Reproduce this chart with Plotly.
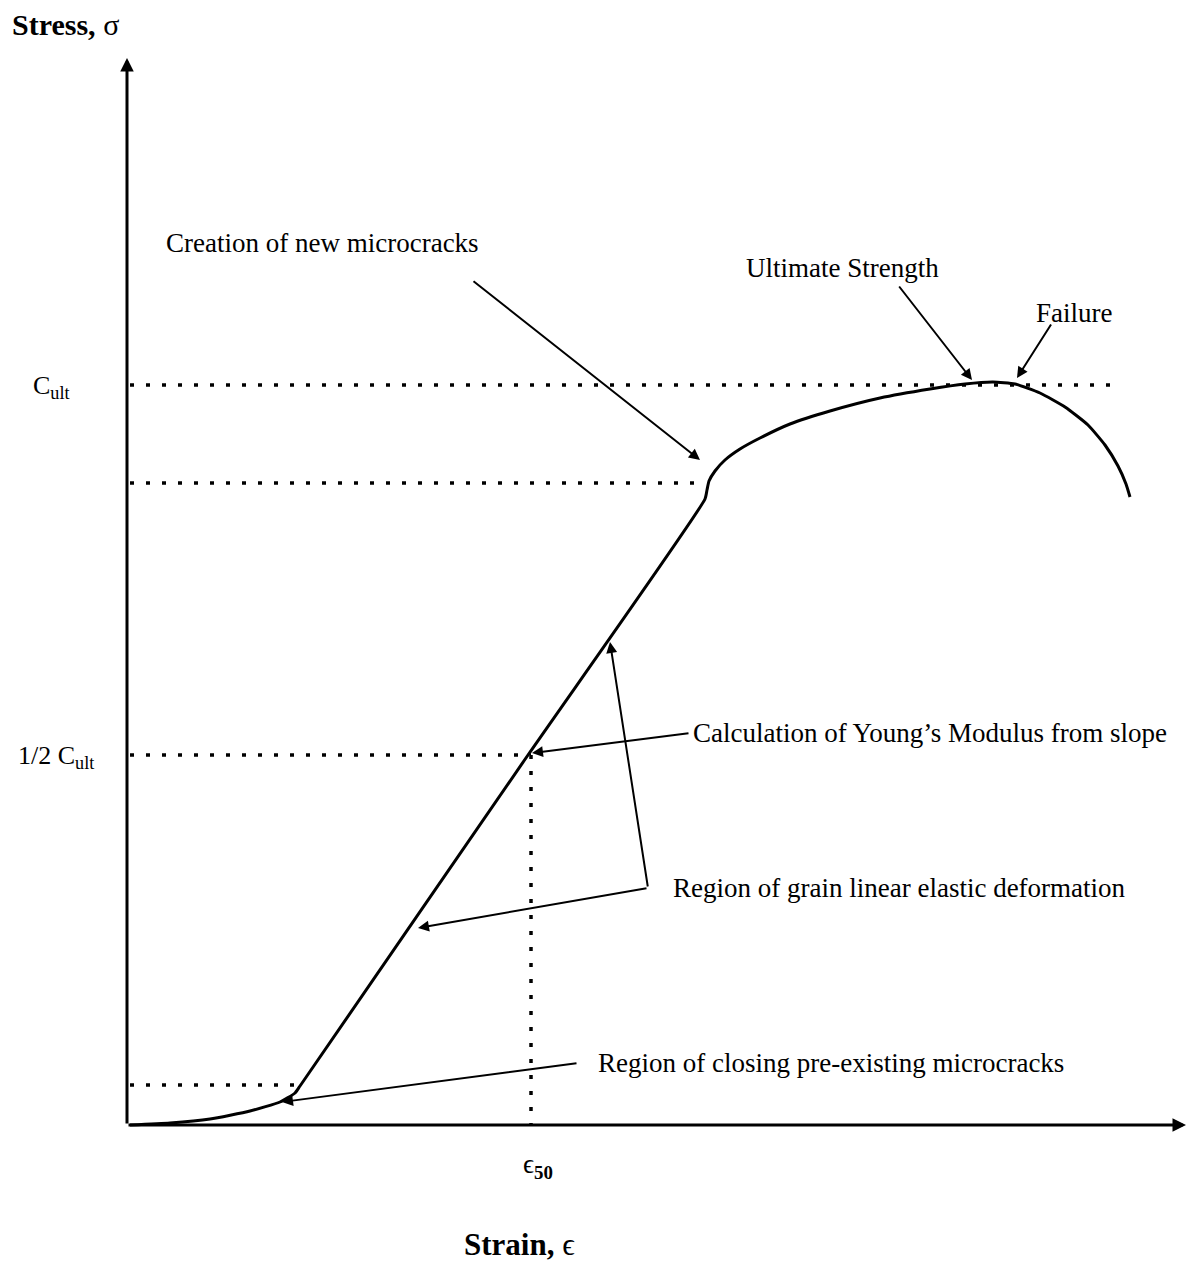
import plotly.graph_objects as go

# ---- data (schematic units: strain along x, stress along y) ----
curve_strain = [2, 42, 82, 122, 152, 167, 172, 400, 577, 579, 581, 587, 597, 612, 632, 662, 702, 752,
                802, 837, 865, 887, 912, 937, 960, 977, 990, 998, 1002]
curve_stress = [0, 2, 6, 14, 23, 32, 39, 370, 626, 635, 644, 654, 665, 676, 687, 701, 714, 727,
                736, 741, 743, 741, 732, 718, 700, 680, 659, 641, 628]

C_ult = 740          # ultimate strength level
C_crack = 642        # onset of new microcracks
C_half = C_ult / 2   # 1/2 C_ult
C_close = 40         # end of crack closure
eps_50 = 403         # strain at 1/2 C_ult
eps_close = 172
eps_crack = 577
eps_end_ult = 982

x_range = [-128, 1060]
y_range = [-136, 1125]

FONT = "Liberation Serif"

fig = go.Figure()

# main curve
fig.add_trace(go.Scatter(x=curve_strain, y=curve_stress, mode="lines",
                         line=dict(color="black", width=3, shape="spline", smoothing=0.5),
                         hoverinfo="skip"))

dot = dict(color="black", width=3.5, dash="4px,12px")
# dotted reference lines
fig.add_trace(go.Scatter(x=[2, eps_end_ult], y=[C_ult, C_ult], mode="lines", line=dot, hoverinfo="skip"))
fig.add_trace(go.Scatter(x=[2, eps_crack], y=[C_crack, C_crack], mode="lines", line=dot, hoverinfo="skip"))
fig.add_trace(go.Scatter(x=[2, eps_50], y=[C_half, C_half], mode="lines", line=dot, hoverinfo="skip"))
fig.add_trace(go.Scatter(x=[2, eps_close], y=[C_close, C_close], mode="lines", line=dot, hoverinfo="skip"))
fig.add_trace(go.Scatter(x=[eps_50, eps_50], y=[C_half, 0], mode="lines", line=dot, hoverinfo="skip"))

annotations = []

def arrow(tail, tip, width=2, head=2, size=1.1):
    annotations.append(dict(x=tip[0], y=tip[1], ax=tail[0], ay=tail[1],
                            xref="x", yref="y", axref="x", ayref="y",
                            text="", showarrow=True, arrowhead=head,
                            arrowsize=size, arrowwidth=width, arrowcolor="black",
                            standoff=0, startstandoff=0))

# axes
arrow((-1, 0), (-1, 1067), width=3, head=2, size=0.9)
arrow((-1, 0), (1058, 0), width=3, head=2, size=0.9)

# pointer arrows
arrow((344, 845), (572, 665))     # creation of new microcracks
arrow((770, 840), (844, 745))     # ultimate strength
arrow((924, 802), (889, 747))     # failure
arrow((562, 392), (404, 372))     # Young's modulus
arrow((520, 237), (482, 483))     # grain linear elastic (upper)
arrow((520, 237), (290, 197))     # grain linear elastic (lower)
arrow((450, 62), (154, 23))       # closing cracks

def label(x, y, text, size=27, bold=False):
    annotations.append(dict(x=x, y=y, xref="x", yref="y", text=("<b>%s</b>" % text) if bold else text,
                            showarrow=False, xanchor="left", yanchor="middle",
                            font=dict(family=FONT, size=size, color="black")))

label(36, 882, "Creation of new microcracks")
label(616, 857, "Ultimate Strength")
label(906, 812, "Failure")
label(563, 392, "Calculation of Young’s Modulus from slope")
label(543, 237, "Region of grain linear elastic deformation")
label(468, 62, "Region of closing pre-existing microcracks")
label(-97, 738, "C<sub>ult</sub>", size=26)
label(-112, 368, "1/2 C<sub>ult</sub>", size=26)
label(393, -41, "ϵ<sub><b>50</b></sub>", size=27)
label(-118, 1101, "<b>Stress,</b> σ", size=30)
label(334, -119, "<b>Strain,</b> ϵ", size=31)

fig.update_layout(
    width=1188, height=1261,
    margin=dict(l=0, r=0, t=0, b=0),
    paper_bgcolor="white", plot_bgcolor="white",
    showlegend=False,
    xaxis=dict(range=x_range, visible=False, fixedrange=True),
    yaxis=dict(range=y_range, visible=False, fixedrange=True),
    annotations=annotations,
)

fig.write_html("out.html")
